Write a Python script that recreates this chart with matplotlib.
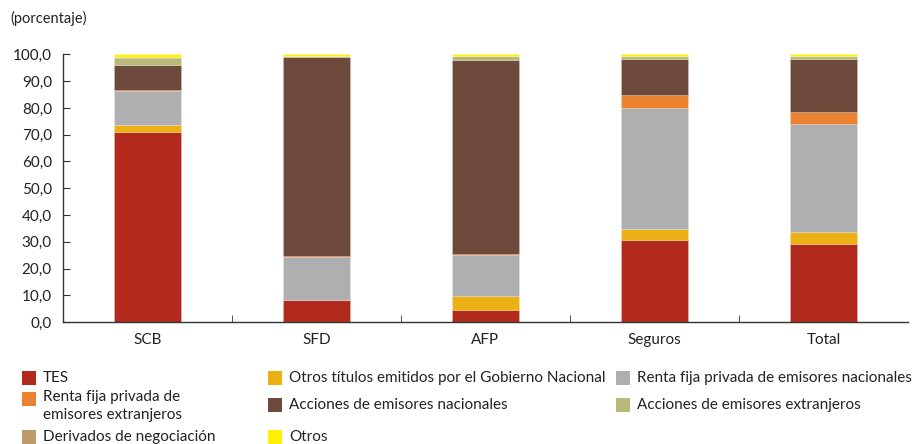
import matplotlib
matplotlib.use("Agg")
import matplotlib.pyplot as plt
from matplotlib.patches import Rectangle
import numpy as np

plt.rcParams['font.family'] = ['Lato', 'DejaVu Sans']

categorias = ["SCB", "SFD", "AFP", "Seguros", "Total"]

# porcentaje de cada activo, de abajo hacia arriba
tes          = [70.9,  8.1,  4.4, 30.6, 29.3]
otros_gob    = [ 2.9,  0.2,  5.5,  4.1,  4.2]
renta_nac    = [12.7, 16.1, 15.3, 45.2, 40.7]
renta_ext    = [ 0.3,  0.3,  0.1,  5.0,  4.3]
acciones_nac = [ 9.4, 74.5, 72.7, 13.6, 19.8]
acciones_ext = [ 2.6,  0.2,  1.4,  1.0,  1.2]
derivados    = [ 0.1,  0.0,  0.0,  0.0,  0.0]
otros        = [ 1.1,  0.6,  0.6,  0.5,  0.5]

series = [tes, otros_gob, renta_nac, renta_ext, acciones_nac, acciones_ext, derivados, otros]
nombres = ["TES", "Otros títulos emitidos por el Gobierno Nacional",
           "Renta fija privada de emisores nacionales",
           "Renta fija privada de\nemisores extranjeros",
           "Acciones de emisores nacionales", "Acciones de emisores extranjeros",
           "Derivados de negociación", "Otros"]
colores = ["#B22A1E", "#EAB014", "#AEAFB1", "#EA8232",
           "#6E4A3C", "#B9B97C", "#BE9A6A", "#FFF200"]

fig = plt.figure(figsize=(9.18, 4.44), dpi=100)
ax = fig.add_axes([63/918, 1-322/444, 845/918, (322-54.5)/444])

x = np.arange(len(categorias))
base = np.zeros(len(categorias))
for vals, col in zip(series, colores):
    ax.bar(x, vals, 0.4, bottom=base, color=col, edgecolor=(1, 1, 1, 0.3),
           linewidth=0.4, clip_on=False)
    base += np.array(vals)

ax.set_xlim(-0.5, 4.5)
ax.set_ylim(0, 100)
ax.set_yticks(np.arange(0, 101, 10))
ax.set_yticklabels([f"{v:.1f}".replace(".", ",") for v in np.arange(0, 101, 10)])
ax.set_xticks(x)
ax.set_xticklabels(categorias)
ax.set_xticks(np.arange(0.5, 4.5, 1), minor=True)
ax.tick_params(axis="x", which="major", length=0, pad=8, labelsize=11, colors="#222222")
ax.tick_params(axis="x", which="minor", direction="in", length=5, color="#333333")
ax.tick_params(axis="y", direction="in", length=5, pad=8, labelsize=11,
               colors="#333333", labelcolor="#222222")
for s in ["top", "right"]:
    ax.spines[s].set_visible(False)
for s in ["left", "bottom"]:
    ax.spines[s].set_color("#333333")
    ax.spines[s].set_linewidth(1.0)

fig.text(10/918, 1-18/444, "(porcentaje)", fontsize=10.5, color="#222222", va="center")

# leyenda manual (3 columnas)
pos = [(22, 378), (268, 378), (616, 378),
       (22, 399), (268, 405), (616, 405),
       (22, 437), (268, 437)]
for (px, py), nom, col in zip(pos, nombres, colores):
    fig.add_artist(Rectangle((px/918, 1-(py+7)/444), 14/918, 14/444,
                             transform=fig.transFigure, color=col, lw=0))
    if "\n" in nom:
        fig.text((px+21)/918, 1-(py-9)/444, nom, fontsize=11, color="#222222",
                 va="top", linespacing=1.35)
    else:
        fig.text((px+21)/918, 1-py/444, nom, fontsize=11, color="#222222",
                 va="center")

fig.savefig("out.png", dpi=100)
